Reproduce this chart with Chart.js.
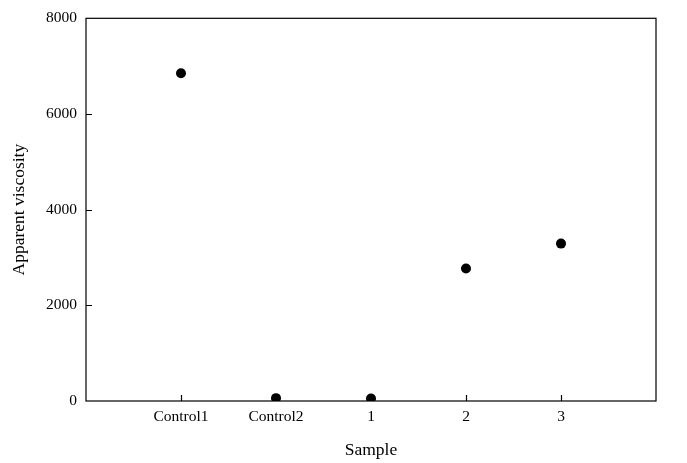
<!DOCTYPE html>
<html>
<head>
<meta charset="utf-8">
<script src="https://cdn.jsdelivr.net/npm/chart.js@4"></script>
<style>
html,body{margin:0;padding:0;background:#fff;}
#wrap{width:687px;height:463px;}
</style>
</head>
<body>
<div id="wrap"><canvas id="c" width="687" height="463"></canvas></div>
<script>
const categories = ['', 'Control1', 'Control2', '1', '2', '3', ''];
const viscosity = [null, 6850, 60, 50, 2770, 3290, null];
const yTicks = [0, 2000, 4000, 6000, 8000];

const FONT = "'Liberation Serif', 'Times New Roman', serif";

const framePlugin = {
  id: 'frame',
  afterDatasetsDraw(chart) {
    const {ctx, chartArea: a, scales: {x, y}} = chart;
    ctx.save();
    ctx.strokeStyle = '#000';
    ctx.lineWidth = 1.2;
    ctx.strokeRect(a.left, a.top, a.right - a.left, a.bottom - a.top);
    ctx.beginPath();
    const tl = 6;
    yTicks.forEach(v => {
      if (v === 0 || v === 8000) return;
      const py = Math.round(y.getPixelForValue(v)) + 0.5;
      ctx.moveTo(a.left, py); ctx.lineTo(a.left + tl, py);
    });
    categories.forEach((c, i) => {
      if (!c) return;
      const px = Math.round(x.getPixelForValue(i)) + 0.5;
      ctx.moveTo(px, a.bottom); ctx.lineTo(px, a.bottom - tl);
    });
    ctx.stroke();
    ctx.restore();
  }
};

new Chart(document.getElementById('c'), {
  type: 'line',
  data: {
    labels: categories,
    datasets: [{
      data: viscosity,
      showLine: false,
      pointRadius: 5,
      pointHoverRadius: 5,
      pointBackgroundColor: '#000',
      pointBorderColor: '#000',
      pointBorderWidth: 0
    }]
  },
  options: {
    responsive: false,
    animation: false,
    events: [],
    layout: {padding: {left: 0, right: 31, top: 17, bottom: 0}},
    plugins: {legend: {display: false}, tooltip: {enabled: false}},
    scales: {
      x: {
        type: 'category',
        offset: false,
        grid: {display: false, drawTicks: false},
        border: {display: false},
        ticks: {color: '#000', font: {family: FONT, size: 15.5}, padding: 7, maxRotation: 0, autoSkip: false},
        title: {display: true, text: 'Sample', color: '#000', font: {family: FONT, size: 17.5}, padding: {top: 0, bottom: 2}},
        afterFit(s) { s.height = 62; }
      },
      y: {
        min: 0, max: 8000,
        grid: {display: false, drawTicks: false},
        border: {display: false},
        afterBuildTicks(s) { s.ticks = yTicks.map(v => ({value: v})); },
        ticks: {color: '#000', font: {family: FONT, size: 15.5}, padding: 9, callback: v => String(v)},
        title: {display: true, text: 'Apparent viscosity', color: '#000', font: {family: FONT, size: 17.5}, padding: {top: 9, bottom: 0}},
        afterFit(s) { s.width = 86; }
      }
    }
  },
  plugins: [framePlugin]
});
</script>
</body>
</html>
